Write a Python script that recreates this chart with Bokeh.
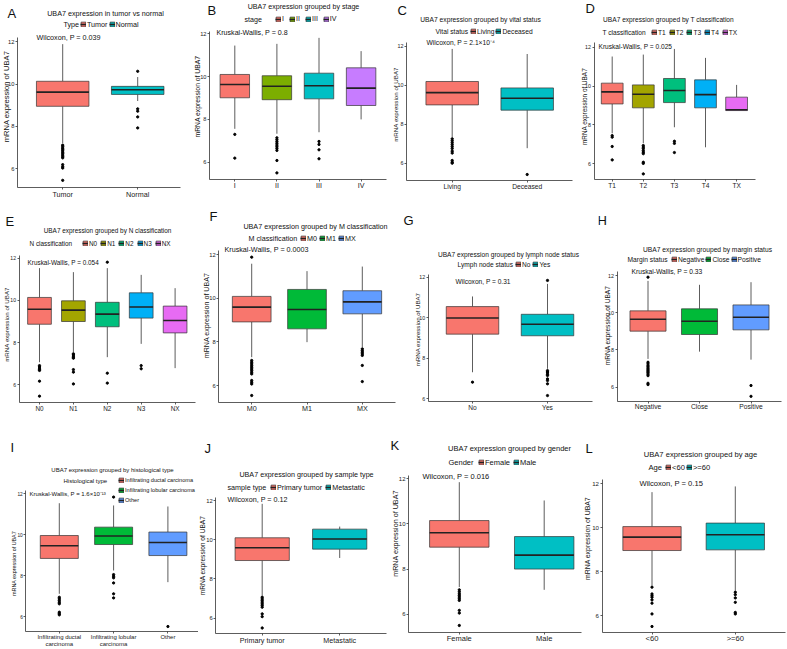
import math
from bokeh.plotting import figure
from bokeh.models import Range1d, FixedTicker, Label, Legend, LegendItem, ColumnDataSource
from bokeh.layouts import row, column
from bokeh.transform import dodge
from bokeh.embed import file_html
from bokeh.resources import INLINE

FONT = "Liberation Sans"
EDGE = "#333333"
YLAB = "mRNA expression of UBA7"
Y_TICKS = [6, 8, 10, 12]

HUE2 = ["#F8766D", "#00BFC4"]
HUE3 = ["#F8766D", "#00BA38", "#619CFF"]
HUE4 = ["#F8766D", "#7CAE00", "#00BFC4", "#C77CFF"]
HUE5 = ["#F8766D", "#A3A500", "#00BF7D", "#00B0F6", "#E76BF3"]

# ---------------- data ----------------
A_cats = ["Tumor", "Normal"]
A_q1 = [8.95, 9.51]
A_med = [9.62, 9.73]
A_q3 = [10.13, 9.89]
A_lo = [7.22, 9.20]
A_hi = [11.88, 10.33]
A_out = [[7.12, 7.05, 6.98, 6.92, 6.85, 6.78, 6.72, 6.65, 6.58, 6.52, 6.20, 6.10, 6.04, 5.46],
         [10.60, 8.83, 8.72, 8.45, 7.93]]

B_cats = ["I", "II", "III", "IV"]
B_q1 = [9.01, 8.92, 8.96, 8.65]
B_med = [9.63, 9.55, 9.57, 9.46]
B_q3 = [10.10, 10.04, 10.16, 10.41]
B_lo = [7.56, 7.33, 7.40, 8.00]
B_hi = [11.45, 11.53, 11.81, 11.19]
B_out = [[7.30, 6.19],
         [7.14, 7.05, 6.96, 6.88, 6.80, 6.72, 6.64, 6.55, 6.08, 5.50],
         [6.97, 6.83, 6.58, 6.16],
         []]

C_cats = ["Living", "Deceased"]
C_q1 = [8.99, 8.72]
C_med = [9.62, 9.33]
C_q3 = [10.19, 9.86]
C_lo = [7.33, 6.77]
C_hi = [11.86, 11.60]
C_out = [[7.25, 7.15, 7.05, 6.95, 6.85, 6.75, 6.62, 6.52, 6.14, 6.05, 6.00], [5.42]]

D_cats = ["T1", "T2", "T3", "T4", "TX"]
D_q1 = [9.08, 8.88, 9.15, 8.88, 8.74]
D_med = [9.70, 9.58, 9.77, 9.56, 8.78]
D_q3 = [10.15, 10.06, 10.39, 10.32, 9.43]
D_lo = [7.57, 7.06, 7.88, 6.85, 8.74]
D_hi = [11.52, 11.62, 11.91, 11.45, 10.06]
D_out = [[7.45, 7.37, 6.89, 6.20],
         [6.94, 6.86, 6.78, 6.68, 6.60, 6.52, 6.08, 6.02, 5.48],
         [7.16, 7.05, 6.58],
         [], []]

E_cats = ["N0", "N1", "N2", "N3", "NX"]
E_q1 = [8.87, 9.00, 8.75, 9.16, 8.46]
E_med = [9.58, 9.54, 9.35, 9.69, 9.05]
E_q3 = [10.14, 9.98, 9.91, 10.36, 9.73]
E_lo = [7.07, 7.55, 7.31, 7.94, 6.79]
E_hi = [11.53, 11.34, 11.53, 11.21, 10.58]
E_out = [[6.91, 6.85, 6.79, 6.72, 6.68, 6.17, 5.46],
         [7.47, 7.42, 7.36, 7.30, 7.26, 6.72, 6.60, 6.04],
         [11.81, 6.55, 6.08],
         [6.91, 6.76],
         []]

F_cats = ["M0", "M1", "MX"]
F_q1 = [8.92, 8.60, 9.29]
F_med = [9.60, 9.49, 9.84]
F_q3 = [10.09, 10.41, 10.35]
F_lo = [7.30, 7.99, 7.76]
F_hi = [11.59, 11.25, 11.46]
F_out = [[11.89, 7.15, 7.07, 6.99, 6.91, 6.84, 6.76, 6.69, 6.61, 6.53, 6.23, 6.15, 6.07, 5.54],
         [],
         [7.68, 7.60, 7.53, 7.45, 7.38, 6.92, 6.18]]

G_cats = ["No", "Yes"]
G_q1 = [9.19, 9.11]
G_med = [9.99, 9.68]
G_q3 = [10.55, 10.17]
G_lo = [7.31, 7.48]
G_hi = [11.05, 11.67]
G_out = [[6.82], [11.84, 7.39, 7.33, 7.28, 7.20, 7.15, 6.98, 6.90, 6.74, 6.16]]

H_cats = ["Negative", "Close", "Positive"]
H_q1 = [9.01, 8.83, 9.08]
H_med = [9.65, 9.54, 9.76]
H_q3 = [10.10, 10.21, 10.42]
H_lo = [7.52, 7.91, 7.48]
H_hi = [11.71, 11.50, 11.64]
H_out = [[11.91, 7.34, 7.25, 7.16, 7.09, 7.02, 6.95, 6.89, 6.83, 6.77, 6.70, 6.62, 6.21, 6.14],
         [],
         [6.09, 5.51]]

I_cats = ["Infiltrating ductal carcinoma", "Infiltrating lobular carcinoma", "Other"]
I_ticks = ["Infiltrating ductal\ncarcinoma", "Infiltrating lobular\ncarcinoma", "Other"]
I_q1 = [8.84, 9.52, 8.98]
I_med = [9.46, 9.94, 9.62]
I_q3 = [9.96, 10.37, 10.13]
I_lo = [7.11, 8.25, 7.68]
I_hi = [11.54, 11.43, 11.38]
I_out = [[6.94, 6.86, 6.78, 6.70, 6.62, 6.21, 6.14, 6.08],
         [11.84, 8.05, 7.97, 7.89, 7.64, 7.11, 6.91],
         [5.51]]

J_cats = ["Primary tumor", "Metastatic"]
J_q1 = [8.94, 9.52]
J_med = [9.59, 10.04]
J_q3 = [10.10, 10.54]
J_lo = [7.15, 9.07]
J_hi = [11.83, 10.67]
J_out = [[7.07, 6.98, 6.90, 6.82, 6.73, 6.65, 6.56, 6.22, 6.08, 5.50], []]

K_cats = ["Female", "Male"]
K_q1 = [8.97, 8.00]
K_med = [9.61, 8.62]
K_q3 = [10.15, 9.44]
K_lo = [7.20, 7.08]
K_hi = [11.85, 11.04]
K_out = [[7.08, 6.99, 6.90, 6.83, 6.76, 6.68, 6.61, 6.17, 6.05, 5.50], []]

L_cats = ["<60", ">=60"]
L_q1 = [8.96, 8.99]
L_med = [9.57, 9.68]
L_q3 = [10.05, 10.21]
L_lo = [7.36, 7.13]
L_hi = [11.62, 11.88]
L_out = [[7.29, 6.98, 6.90, 6.83, 6.71, 6.56, 6.07, 5.50], [7.06, 6.95, 6.80, 6.60, 6.14, 6.07]]

PANELS = [
    dict(letter="A", cats=A_cats, ticks=A_cats, q1=A_q1, med=A_med, q3=A_q3, lo=A_lo, hi=A_hi, out=A_out, colors=HUE2,
         title="UBA7 expression in tumor vs normal", legtitle="Type", stat="Wilcoxon, P = 0.039"),
    dict(letter="B", cats=B_cats, ticks=B_cats, q1=B_q1, med=B_med, q3=B_q3, lo=B_lo, hi=B_hi, out=B_out, colors=HUE4,
         title="UBA7 expression grouped by stage", legtitle="stage", stat="Kruskal-Wallis, P = 0.8"),
    dict(letter="C", cats=C_cats, ticks=C_cats, q1=C_q1, med=C_med, q3=C_q3, lo=C_lo, hi=C_hi, out=C_out, colors=HUE2,
         title="UBA7 expression grouped by vital status", legtitle="Vital status", stat="Wilcoxon, P = 2.1×10⁻⁴"),
    dict(letter="D", cats=D_cats, ticks=D_cats, q1=D_q1, med=D_med, q3=D_q3, lo=D_lo, hi=D_hi, out=D_out, colors=HUE5,
         title="UBA7 expression grouped by T classification", legtitle="T classification", stat="Kruskal-Wallis, P = 0.025"),
    dict(letter="E", cats=E_cats, ticks=E_cats, q1=E_q1, med=E_med, q3=E_q3, lo=E_lo, hi=E_hi, out=E_out, colors=HUE5,
         title="UBA7 expression grouped by N classification", legtitle="N classification", stat="Kruskal-Wallis, P = 0.054"),
    dict(letter="F", cats=F_cats, ticks=F_cats, q1=F_q1, med=F_med, q3=F_q3, lo=F_lo, hi=F_hi, out=F_out, colors=HUE3,
         title="UBA7 expression grouped by M classification", legtitle="M classification", stat="Kruskal-Wallis, P = 0.0003"),
    dict(letter="G", cats=G_cats, ticks=G_cats, q1=G_q1, med=G_med, q3=G_q3, lo=G_lo, hi=G_hi, out=G_out, colors=HUE2,
         title="UBA7 expression grouped by lymph node status", legtitle="Lymph node status", stat="Wilcoxon, P = 0.31"),
    dict(letter="H", cats=H_cats, ticks=H_cats, q1=H_q1, med=H_med, q3=H_q3, lo=H_lo, hi=H_hi, out=H_out, colors=HUE3,
         title="UBA7 expression grouped by margin status", legtitle="Margin status", stat="Kruskal-Wallis, P = 0.33"),
    dict(letter="I", cats=I_cats, ticks=I_ticks, q1=I_q1, med=I_med, q3=I_q3, lo=I_lo, hi=I_hi, out=I_out, colors=HUE3,
         title="UBA7 expression grouped by histological type", legtitle="Histological type", stat="Kruskal-Wallis, P = 1.6×10⁻¹³"),
    dict(letter="J", cats=J_cats, ticks=J_cats, q1=J_q1, med=J_med, q3=J_q3, lo=J_lo, hi=J_hi, out=J_out, colors=HUE2,
         title="UBA7 expression grouped by sample type", legtitle="sample type", stat="Wilcoxon, P = 0.12"),
    dict(letter="K", cats=K_cats, ticks=K_cats, q1=K_q1, med=K_med, q3=K_q3, lo=K_lo, hi=K_hi, out=K_out, colors=HUE2,
         title="UBA7 expression grouped by gender", legtitle="Gender", stat="Wilcoxon, P = 0.016"),
    dict(letter="L", cats=L_cats, ticks=L_cats, q1=L_q1, med=L_med, q3=L_q3, lo=L_lo, hi=L_hi, out=L_out, colors=HUE2,
         title="UBA7 expression grouped by age", legtitle="Age", stat="Wilcoxon, P = 0.15"),
]

# ---------------- layout (pixel geometry of each cell) ----------------
LAYOUT = [
    dict(cell=(0, 191, 0, 205), fl=17, fr=180, fb=187, p12=41.1, p6=168.4, c1=62.2, sp=75,
         letter=(7, 13), title=(105, 13), leg=(63, 80, 24), stat=(36, 37), ylab=(6, 96), fs=7.2, yfs=7.6, gap=1),
    dict(cell=(191, 388, 0, 205), fl=209, fr=386, fb=179, p12=33.3, p6=161.7, c1=234.3, sp=42.1,
         letter=(207, 10), title=(303, 6), leg=(244, 275, 19), stat=(216, 32), ylab=(197, 96), fs=7.1, yfs=6.8, gap=5),
    dict(cell=(388, 578, 0, 205), fl=406, fr=572, fb=180, p12=45.7, p6=162.7, c1=451.7, sp=75,
         letter=(397, 10), title=(480, 19), leg=(435, 470, 31), stat=(426, 42), ylab=(395, 104), fs=6.7, yfs=6.2, gap=1),
    dict(cell=(578, 786, 0, 205), fl=593.5, fr=754.7, fb=179.3, p12=46.7, p6=163.3, c1=611.7, sp=31.1,
         letter=(585, 8), title=(668, 19), leg=(602, 651, 32), stat=(598, 46), ylab=(584, 106), fs=6.6, yfs=6.4, gap=3),
    dict(cell=(0, 197, 205, 430), fl=18.5, fr=195.3, fb=402.3, p12=257.7, p6=384.3, c1=39.0, sp=33.9,
         letter=(5, 221), title=(107, 230), leg=(29, 82, 243), stat=(27, 262), ylab=(6, 324), fs=6.4, yfs=6.2, gap=3),
    dict(cell=(197, 400, 205, 430), fl=218.2, fr=395, fb=401.7, p12=254.3, p6=385, c1=251.2, sp=55.3,
         letter=(209, 216), title=(315, 226), leg=(248, 300, 238), stat=(224, 249), ylab=(206.7, 315), fs=7.2, yfs=7.1, gap=2),
    dict(cell=(400, 598, 205, 430), fl=427.7, fr=591.7, fb=401, p12=276.7, p6=398.3, c1=472, sp=75,
         letter=(403, 220), title=(508, 254), leg=(457, 515, 264), stat=(455, 281), ylab=(416.7, 329), fs=6.6, yfs=6.1, gap=2),
    dict(cell=(598, 786, 205, 430), fl=616.6, fr=781.4, fb=400.7, p12=275, p6=386.7, c1=647.5, sp=51.5,
         letter=(597, 220), title=(707, 249), leg=(627, 671, 259), stat=(631, 271), ylab=(606.7, 325), fs=6.7, yfs=6.6, gap=1),
    dict(cell=(0, 198, 430, 648), fl=25.3, fr=198, fb=631, p12=493.3, p6=616, c1=58.8, sp=54.3,
         letter=(10, 447), title=(112, 469), leg=(63, 118, 480), stat=(29, 493), ylab=(13.3, 563), fs=6.0, yfs=5.4,
         lfs=5.6, gap=2, vertical=True),
    dict(cell=(198, 389, 430, 648), fl=215.2, fr=385.7, fb=633.3, p12=500, p6=617.7, c1=261.7, sp=77.5,
         letter=(204, 448), title=(306, 474), leg=(227, 270, 487), stat=(227, 499), ylab=(201.7, 555), fs=7.2, yfs=6.6, gap=3),
    dict(cell=(389, 582, 430, 648), fl=408, fr=581, fb=631.7, p12=478.3, p6=613.7, c1=458.8, sp=84.9,
         letter=(390, 445), title=(509, 448), leg=(448, 478, 462), stat=(422, 476), ylab=(395, 533), fs=7.5, yfs=7.2, gap=3),
    dict(cell=(582, 786, 430, 648), fl=601.5, fr=785, fb=631.7, p12=483.3, p6=615, c1=651.5, sp=83.3,
         letter=(585, 448), title=(700, 454), leg=(648, 665, 467), stat=(639, 483), ylab=(586.5, 538), fs=7.6, yfs=6.9, gap=1),
]


def make_panel(d, L):
    n = len(d["cats"])
    x0, x1, y0, y1 = L["cell"]
    W, H = x1 - x0, y1 - y0
    vpp = 6.0 / (L["p6"] - L["p12"])
    vals = d["lo"] + d["hi"] + [v for o in d["out"] for v in o]
    vmin, vmax = min(vals), max(vals)
    y_end = vmax + 0.05 * (vmax - vmin)          # ggplot-style 5% expansion (axis extent)
    y_start = 6 - (L["fb"] - L["p6"]) * vpp      # where the x axis sits
    y_top = 12 + (L["p12"] - y0) * vpp           # frame spans the whole cell
    y_bot = 6 - (y1 - L["p6"]) * vpp
    sp, c1 = L["sp"], L["c1"]
    xs = 1 - (c1 - L["fl"]) / sp
    xe = 1 + (L["fr"] - c1) / sp
    xs_c = 1 - (c1 - x0) / sp
    xe_c = 1 + (x1 - c1) / sp

    p = figure(width=W, height=H, x_range=Range1d(xs_c, xe_c), y_range=Range1d(y_bot, y_top),
               output_backend="svg", toolbar_location=None, tools="", title=None,
               min_border_left=0, min_border_right=0, min_border_top=0, min_border_bottom=0)
    p.xgrid.visible = False
    p.ygrid.visible = False
    p.outline_line_color = None
    p.background_fill_color = "white"
    p.border_fill_color = "white"

    fs = L["fs"]
    xa, ya = p.xaxis[0], p.yaxis[0]
    for ax in (xa, ya):
        ax.axis_label = None
        ax.axis_line_color = EDGE
        ax.axis_line_width = 0.8
        ax.major_tick_line_color = EDGE
        ax.major_tick_line_width = 0.8
        ax.major_tick_in = 0
        ax.major_tick_out = 2
        ax.minor_tick_line_color = None
        ax.minor_tick_in = 0
        ax.minor_tick_out = 0
        ax.major_label_text_font = FONT
        ax.major_label_text_color = "#1a1a1a"
    xa.major_label_text_font_size = f"{fs:.1f}px"
    ya.major_label_text_font_size = f"{fs * 0.8:.1f}px"
    xa.major_label_standoff = 0
    ya.major_label_standoff = 1
    ya.fixed_location = xs
    xa.fixed_location = y_start
    ya.bounds = (y_start, y_end)
    xa.bounds = (xs, xe)
    ya.ticker = FixedTicker(ticks=Y_TICKS)
    idx = list(range(1, n + 1))
    xa.ticker = FixedTicker(ticks=idx)
    xa.major_label_overrides = {i + 1: t for i, t in enumerate(d["ticks"])}

    src = ColumnDataSource(dict(x=idx, q1=d["q1"], med=d["med"], q3=d["q3"],
                                lo=d["lo"], hi=d["hi"], fill=d["colors"][:n]))
    p.segment(x0="x", y0="q3", x1="x", y1="hi", source=src, line_color=EDGE, line_width=0.8)
    p.segment(x0="x", y0="lo", x1="x", y1="q1", source=src, line_color=EDGE, line_width=0.8)
    box = p.vbar(x="x", width=0.7, bottom="q1", top="q3", fill_color="fill",
                 line_color=EDGE, line_width=0.7, source=src)
    med = p.segment(x0=dodge("x", -0.35), y0="med", x1=dodge("x", 0.35), y1="med",
                    source=src, line_color="#222222", line_width=1.6)
    ox = [i + 1 for i, o in enumerate(d["out"]) for _ in o]
    oy = [v for o in d["out"] for v in o]
    p.scatter(ox, oy, size=2.3, color="black")

    def txt(text, X, Y, size, align="left", angle=0.0):
        p.add_layout(Label(x=X - x0, y=y1 - Y, x_units="screen", y_units="screen",
                           text=text, text_font=FONT, text_font_size=f"{size:.1f}px",
                           text_align=align, text_baseline="middle", angle=angle, text_color="#111111"))

    txt(d["letter"], L["letter"][0], L["letter"][1], 13)
    txt(d["title"], L["title"][0], L["title"][1], fs, align="center")
    txt(d["stat"], L["stat"][0], L["stat"][1], fs)
    txt(YLAB, L["ylab"][0], L["ylab"][1], L["yfs"], align="center", angle=math.pi / 2)
    lt_x, lk_x, l_y = L["leg"]
    txt(d["legtitle"], lt_x, l_y, fs)

    lfs = L.get("lfs", fs)
    lh = int(round(max(lfs, 6.5) * 1.2))
    items = [LegendItem(label=c, renderers=[box, med], index=i) for i, c in enumerate(d["cats"])]
    vertical = L.get("vertical", False)
    yc = y1 - l_y
    if vertical:
        ly = yc + lh / 2 - (n * lh + (n - 1) * L["gap"])
    else:
        ly = yc - lh / 2
    lg = Legend(items=items, orientation="vertical" if vertical else "horizontal",
                location=(lk_x - x0, ly), padding=0, margin=0, spacing=int(L["gap"]),
                border_line_color=None, background_fill_alpha=0,
                glyph_width=6, glyph_height=6, label_standoff=1, label_width=0, label_height=lh,
                label_text_font=FONT, label_text_font_size=f"{lfs:.1f}px", label_text_color="#111111")
    p.add_layout(lg)
    return p


figs = [make_panel(d, L) for d, L in zip(PANELS, LAYOUT)]
layout = column(row(*figs[0:4]), row(*figs[4:8]), row(*figs[8:12]))
open("out.html", "w").write(file_html(layout, INLINE))
